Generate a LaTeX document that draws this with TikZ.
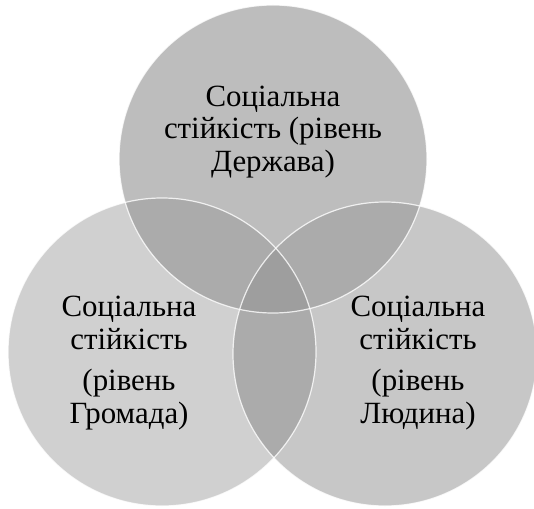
\documentclass[tikz,border=0pt]{standalone}
\usepackage{fontspec}
\setmainfont{Liberation Serif}
\usepackage{tikz}
\definecolor{topgray}{gray}{0.74}
\definecolor{leftgray}{gray}{0.815}
\definecolor{rightgray}{gray}{0.78}
\definecolor{pairgray}{gray}{0.67}
\definecolor{triplegray}{gray}{0.62}
\tikzset{
	vennlabel/.style={align=center, inner sep=0pt, font=\fontsize{31}{33}\selectfont},
	vennedge/.style={draw=white, line width=1.2bp, draw opacity=0.8}
}
\def\vennr{154}

\begin{document}
\begin{tikzpicture}[x=1bp, y=-1bp]
			%%%%% START %%%%%
			
			\useasboundingbox (0, 0) rectangle (534, 509);
			
			\coordinate (derzhava) at (273, 159);
			\coordinate (hromada) at (162, 352);
			\coordinate (liudyna) at (385, 354);
			
			\fill[topgray] (derzhava) circle (\vennr);
			\fill[rightgray] (liudyna) circle (152);
			\fill[leftgray] (hromada) circle (\vennr);
			
			\begin{scope}
				\clip (hromada) circle (\vennr);
				\fill[pairgray] (liudyna) circle (152);
			\end{scope}
			\begin{scope}
				\clip (derzhava) circle (\vennr);
				\fill[pairgray] (hromada) circle (\vennr);
				\fill[pairgray] (liudyna) circle (152);
				\clip (hromada) circle (\vennr);
				\fill[triplegray] (liudyna) circle (152);
			\end{scope}
			
			\draw[vennedge] (derzhava) circle (\vennr);
			\draw[vennedge] (liudyna) circle (152);
			\draw[vennedge] (hromada) circle (\vennr);
			
			\node[vennlabel] (tderzhava) at (273, 132) {Соціальна\\стійкість (рівень\\Держава)};
			\node[vennlabel] (thromada) at (129, 363) {Соціальна\\стійкість\\[9bp](рівень\\Громада)};
			\node[vennlabel] (tliudyna) at (418, 363) {Соціальна\\стійкість\\[9bp](рівень\\Людина)};
			
			%%%%% END %%%%%
		\end{tikzpicture}
\end{document}
